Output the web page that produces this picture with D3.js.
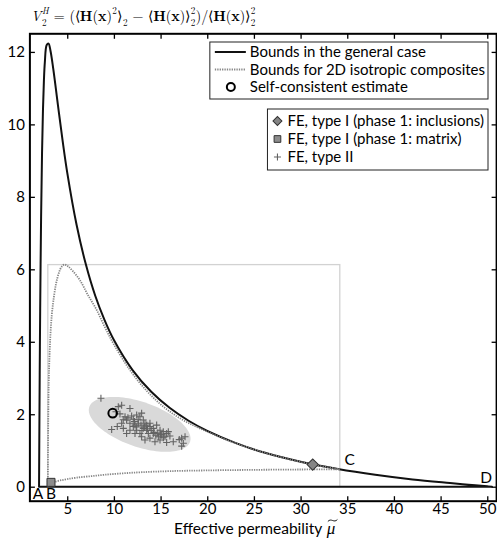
<!DOCTYPE html>
<html>
<head>
<meta charset="utf-8">
<script src="https://cdn.jsdelivr.net/npm/d3@7"></script>
<style>
  body { margin: 0; background: #fff; }
  svg { display: block; }
  text { white-space: pre; }
</style>
</head>
<body>
<div id="chart"></div>
<script>
// bound in the general case (effective permeability, V2^H)
var boundMu = [1.98, 2.0, 2.05, 2.1, 2.2, 2.3, 2.4, 2.5, 2.6, 2.8, 3.0, 3.2, 3.5, 4, 4.5, 5, 6, 7, 8, 9, 10, 12, 14, 16, 18, 20, 23, 26, 30, 34, 38, 42, 46, 48, 50, 50.5];
var boundV = [0, 0.97, 3.1, 4.84, 7.45, 9.21, 10.4, 11.2, 11.71, 12.19, 12.23, 12.04, 11.54, 10.54, 9.56, 8.67, 7.23, 6.13, 5.27, 4.6, 4.05, 3.22, 2.62, 2.17, 1.82, 1.54, 1.21, 0.95, 0.69, 0.49, 0.33, 0.2, 0.1, 0.053, 0.01, 0];

// bounds for 2D isotropic composites (upper branch B -> C, lower branch B -> C)
var isoUpMu = [2.92, 2.94, 2.97, 3.02, 3.1, 3.2, 3.35, 3.55, 3.8, 4.1, 4.4, 4.7, 5.1, 5.6, 6.36, 7.2, 8.15, 9.0, 9.93, 11.72, 13.5, 15.3, 17.2, 19.2, 22, 25, 28, 31, 34.2];
var isoUpV = [0, 1.0, 2.0, 2.9, 3.6, 4.2, 4.75, 5.2, 5.6, 5.9, 6.07, 6.13, 6.08, 5.95, 5.7, 5.3, 4.88, 4.42, 3.96, 3.22, 2.65, 2.21, 1.87, 1.61, 1.3, 1.03, 0.81, 0.63, 0.48];
var isoLoMu = [2.92, 3.0, 3.2, 3.6, 4.2, 5, 6, 7.5, 9, 11, 13, 16, 20, 25, 30, 34.2];
var isoLoV = [0, 0.05, 0.09, 0.13, 0.17, 0.21, 0.25, 0.29, 0.33, 0.37, 0.4, 0.43, 0.45, 0.465, 0.475, 0.48];

// box spanned by the 2D bounds
var boxMu = [2.92, 34.2];
var boxV = [0, 6.13];

// FE type II results
var feMu = [8.61, 10.47, 10.83, 10.22, 10.65, 11.72, 11.19, 11.36, 10.83, 12.08, 12.44, 12.79, 13.15, 12.61, 12.08, 11.72, 11.36, 9.76, 10.36, 11.01,
  13.51, 13.86, 14.22, 14.58, 14.94, 15.29, 15.65, 15.12, 14.76, 14.22, 13.33, 13.86, 14.4, 14.94, 15.65, 16.36, 15.47, 15.83, 17.26, 17.62,
  17.44, 17.26, 13.51, 13.15, 12.44, 12.79, 12.26, 12.97, 13.69, 11.72, 12.26, 13.33, 13.86, 12.97, 11.5, 12.2, 12.9, 13.6, 14.3, 15.0,
  11.9, 12.6, 13.3, 14.0, 14.7, 11.0, 12.4, 13.0, 14.5, 15.3, 16.0, 17.0];
var feV = [2.44, 2.21, 2.25, 2.07, 2.01, 2.16, 1.93, 1.84, 1.75, 1.86, 1.98, 1.93, 1.84, 1.75, 1.66, 1.56, 1.47, 1.58, 1.66, 1.61,
  1.7, 1.66, 1.61, 1.7, 1.56, 1.52, 1.47, 1.43, 1.38, 1.47, 1.29, 1.34, 1.24, 1.29, 1.22, 1.24, 1.38, 1.52, 1.34, 1.38,
  1.2, 1.12, 1.56, 1.61, 1.56, 1.47, 1.47, 1.38, 1.47, 1.75, 1.7, 1.75, 1.75, 2.03, 1.9, 1.8, 1.7, 1.6, 1.5, 1.45,
  1.95, 1.85, 1.65, 1.55, 1.48, 1.85, 1.65, 1.55, 1.42, 1.35, 1.4, 1.3];

// spread ellipse of FE type II: centre and two half-axes (data units)
var ellCenter = [12.76, 1.72];
var ellAxisA = [5.39, -0.484];
var ellAxisB = [0.79, 0.584];

// single points
var scPoint = [9.87, 2.03];      // self-consistent estimate
var fe1Incl = [31.3, 0.61];      // FE type I, phase 1 inclusions
var fe1Matrix = [3.26, 0.12];    // FE type I, phase 1 matrix

var muTicks = [5, 10, 15, 20, 25, 30, 35, 40, 45, 50];
var vTicks = [0, 2, 4, 6, 8, 10, 12];

var legend1 = ['Bounds in the general case', 'Bounds for 2D isotropic composites', 'Self-consistent estimate'];
var legend2 = ['FE, type I (phase 1: inclusions)', 'FE, type I (phase 1: matrix)', 'FE, type II'];

var width = 497,
  height = 539;
var sans = 'Lato, "Open Sans", sans-serif';
var serif = '"Latin Modern Roman", "Liberation Serif", serif';
var dotGrey = '#868686';

var svg = d3
  .select('#chart')
  .append('svg')
  .attr('width', width)
  .attr('height', height);

var x = d3.scaleLinear().domain([1, 51]).range([29.9, 496.6]);
var y = d3.scaleLinear().domain([-0.4, 12.5]).range([501.2, 33.8]);

// gray box of 2D bounds
svg
  .append('rect')
  .attr('x', x(boxMu[0]))
  .attr('y', y(boxV[1]))
  .attr('width', x(boxMu[1]) - x(boxMu[0]))
  .attr('height', y(boxV[0]) - y(boxV[1]))
  .attr('fill', 'none')
  .attr('stroke', '#d2d2d2')
  .attr('stroke-width', 1.3);

// ellipse
var ellPts = d3.range(0, 2 * Math.PI + 0.01, Math.PI / 60).map((t) => [
  ellCenter[0] + ellAxisA[0] * Math.cos(t) + ellAxisB[0] * Math.sin(t),
  ellCenter[1] + ellAxisA[1] * Math.cos(t) + ellAxisB[1] * Math.sin(t)
]);
svg
  .append('path')
  .attr('d', d3.line().x((d) => x(d[0])).y((d) => y(d[1]))(ellPts) + 'Z')
  .attr('fill', '#d9d9d9')
  .attr('stroke', 'none');

var line = d3
  .line()
  .x((d) => x(d[0]))
  .y((d) => y(d[1]))
  .curve(d3.curveCatmullRom.alpha(0.5));

// general bound (closed with the line V=0)
var boundPts = boundMu.map((m, i) => [m, boundV[i]]);
svg
  .append('path')
  .attr('d', line(boundPts) + 'Z')
  .attr('fill', 'none')
  .attr('stroke', '#111')
  .attr('stroke-width', 2)
  .attr('stroke-linejoin', 'round');

// 2D isotropic bounds
[
  isoUpMu.map((m, i) => [m, isoUpV[i]]),
  isoLoMu.map((m, i) => [m, isoLoV[i]])
].forEach((pts) => {
  svg
    .append('path')
    .attr('d', line(pts))
    .attr('fill', 'none')
    .attr('stroke', dotGrey)
    .attr('stroke-width', 1.8)
    .attr('stroke-dasharray', '1.3,1.1');
});

// FE type II crosses
var plus = 'M-3.5,0H3.5M0,-3.5V3.5';
svg
  .append('g')
  .selectAll('path')
  .data(feMu)
  .enter()
  .append('path')
  .attr('d', plus)
  .attr('transform', (d, i) => 'translate(' + x(d) + ',' + y(feV[i]) + ')')
  .attr('stroke', '#636363')
  .attr('stroke-width', 1.1)
  .attr('fill', 'none');

// self-consistent estimate
svg
  .append('circle')
  .attr('cx', x(scPoint[0]))
  .attr('cy', y(scPoint[1]))
  .attr('r', 4.3)
  .attr('fill', 'none')
  .attr('stroke', '#000')
  .attr('stroke-width', 2);

var square = d3.symbol().type(d3.symbolSquare).size(64);

svg
  .append('path')
  .attr('d', square())
  .attr('transform', 'translate(' + x(fe1Incl[0]) + ',' + y(fe1Incl[1]) + ') rotate(45)')
  .attr('fill', '#858585')
  .attr('stroke', '#333')
  .attr('stroke-width', 1);

svg
  .append('path')
  .attr('d', square())
  .attr('transform', 'translate(' + x(fe1Matrix[0]) + ',' + y(fe1Matrix[1]) + ')')
  .attr('fill', '#8c8c8c')
  .attr('stroke', '#333')
  .attr('stroke-width', 1);

// point labels A B C D
var pointLabels = [
  { t: 'A', x: x(1.98) - 1, y: y(-0.4) - 2 },
  { t: 'B', x: x(3.26), y: y(-0.4) - 2 },
  { t: 'C', x: x(34.2) + 10, y: y(0.48) - 4 },
  { t: 'D', x: x(50) - 1, y: y(0) - 4 }
];
svg
  .append('g')
  .selectAll('text')
  .data(pointLabels)
  .enter()
  .append('text')
  .attr('x', (d) => d.x)
  .attr('y', (d) => d.y)
  .attr('text-anchor', 'middle')
  .style('font-family', sans)
  .style('font-size', '15.5px')
  .text((d) => d.t);

// axes (ticks inside, on all sides)
function styleAxis(g) {
  g.select('.domain').remove();
  g.selectAll('.tick line').attr('stroke', '#000').attr('stroke-width', 1.3);
  g.selectAll('.tick text')
    .style('font-family', sans)
    .style('font-size', '15px')
    .attr('fill', '#000');
}
svg
  .append('g')
  .attr('transform', 'translate(0,' + y(-0.4) + ')')
  .call(d3.axisBottom(x).tickValues(muTicks).tickSize(-5).tickPadding(2.5))
  .call(styleAxis);
svg
  .append('g')
  .attr('transform', 'translate(0,' + y(12.5) + ')')
  .call(d3.axisTop(x).tickValues(muTicks).tickSize(-5).tickFormat(''))
  .call(styleAxis);
svg
  .append('g')
  .attr('transform', 'translate(' + x(1) + ',0)')
  .call(d3.axisLeft(y).tickValues(vTicks).tickSize(-5).tickPadding(5))
  .call(styleAxis);
svg
  .append('g')
  .attr('transform', 'translate(' + x(51) + ',0)')
  .call(d3.axisRight(y).tickValues(vTicks).tickSize(-5).tickFormat(''))
  .call(styleAxis);

svg
  .append('rect')
  .attr('x', x(1))
  .attr('y', y(12.5))
  .attr('width', x(51) - x(1))
  .attr('height', y(-0.4) - y(12.5))
  .attr('fill', 'none')
  .attr('stroke', '#000')
  .attr('stroke-width', 2);

// x label; the tilde over mu is a small wave path
var xlX = 174,
  xlY = 533.5;
var xl = svg
  .append('text')
  .attr('x', xlX)
  .attr('y', xlY)
  .style('font-family', sans)
  .style('font-size', '15.5px')
  .text('Effective permeability ');
var muX = xlX + xl.node().getComputedTextLength() + 1;
var mu = svg
  .append('text')
  .attr('x', muX)
  .attr('y', xlY)
  .style('font-family', serif)
  .style('font-style', 'italic')
  .style('font-size', '17px')
  .text('μ');
var muW = mu.node().getComputedTextLength();
var tx0 = muX + 1,
  tx1 = muX + muW + 2,
  tyT = xlY - 13;
svg
  .append('path')
  .attr('d', 'M' + tx0 + ',' + (tyT + 1) +
    'C' + (tx0 + (tx1 - tx0) * 0.35) + ',' + (tyT - 3) + ' ' +
    (tx0 + (tx1 - tx0) * 0.65) + ',' + (tyT + 3) + ' ' + tx1 + ',' + (tyT - 1))
  .attr('fill', 'none')
  .attr('stroke', '#000')
  .attr('stroke-width', 0.9);

// title: one text element, pieces placed as tspans
var titleParts = [
  { t: 'V', it: true },
  { sub: '2', sup: 'H', supIt: true },
  { t: ' = (⟨' },
  { t: 'H', bold: true }, { t: '(' }, { t: 'x', bold: true }, { t: ')' },
  { sup: '2' },
  { t: '⟩' },
  { sub: '2' },
  { t: ' − ⟨' },
  { t: 'H', bold: true }, { t: '(' }, { t: 'x', bold: true }, { t: ')' },
  { t: '⟩' },
  { sub: '2', sup: '2' },
  { t: ')/⟨' },
  { t: 'H', bold: true }, { t: '(' }, { t: 'x', bold: true }, { t: ')' },
  { t: '⟩' },
  { sub: '2', sup: '2' }
];
var tSize = 14;
var title = svg
  .append('text')
  .style('font-family', serif)
  .style('font-size', tSize + 'px');
var cx = 31,
  ty = 21;
titleParts.forEach((p) => {
  if (p.t !== undefined) {
    var el = title
      .append('tspan')
      .attr('x', cx)
      .attr('y', ty)
      .style('font-style', p.it ? 'italic' : 'normal')
      .style('font-weight', p.bold ? 'bold' : 'normal')
      .text(p.t);
    cx += el.node().getComputedTextLength();
  } else {
    var w = 0;
    if (p.sup) {
      var s = title
        .append('tspan')
        .attr('x', cx + 0.5)
        .attr('y', ty - 7.5)
        .style('font-size', tSize * 0.65 + 'px')
        .style('font-style', p.supIt ? 'italic' : 'normal')
        .text(p.sup);
      w = Math.max(w, s.node().getComputedTextLength());
    }
    if (p.sub) {
      var b = title
        .append('tspan')
        .attr('x', cx + 0.5)
        .attr('y', ty + 4.5)
        .style('font-size', tSize * 0.65 + 'px')
        .text(p.sub);
      w = Math.max(w, b.node().getComputedTextLength());
    }
    cx += w + 1;
  }
});

// legends
function measure(strs, size) {
  var tmp = svg.append('g').style('font-family', sans).style('font-size', size + 'px');
  var ws = strs.map((s) => tmp.append('text').text(s).node().getComputedTextLength());
  tmp.remove();
  return d3.max(ws);
}
var legSize = 15;
var legRight = 488;

var w1 = measure(legend1, legSize);
var t1x = legRight - 3 - w1;
var lg1 = svg.append('g');
lg1.append('rect')
  .attr('x', t1x - 40)
  .attr('y', 42)
  .attr('width', legRight - (t1x - 40))
  .attr('height', 57)
  .attr('fill', '#fff')
  .attr('stroke', '#222')
  .attr('stroke-width', 1);
var rows1 = [57, 74.5, 92];
lg1.append('line')
  .attr('x1', t1x - 35).attr('x2', t1x - 4)
  .attr('y1', rows1[0] - 5).attr('y2', rows1[0] - 5)
  .attr('stroke', '#111').attr('stroke-width', 2);
lg1.append('line')
  .attr('x1', t1x - 35).attr('x2', t1x - 4)
  .attr('y1', rows1[1] - 5).attr('y2', rows1[1] - 5)
  .attr('stroke', dotGrey).attr('stroke-width', 1.8).attr('stroke-dasharray', '1.3,1.1');
lg1.append('circle')
  .attr('cx', t1x - 19).attr('cy', rows1[2] - 5).attr('r', 4)
  .attr('fill', 'none').attr('stroke', '#000').attr('stroke-width', 2);
lg1.selectAll('text')
  .data(legend1)
  .enter()
  .append('text')
  .attr('x', t1x)
  .attr('y', (d, i) => rows1[i])
  .style('font-family', sans)
  .style('font-size', legSize + 'px')
  .text((d) => d);

var w2 = measure(legend2, legSize);
var t2x = legRight - 4 - w2;
var lg2 = svg.append('g');
lg2.append('rect')
  .attr('x', t2x - 20)
  .attr('y', 109)
  .attr('width', legRight - (t2x - 20))
  .attr('height', 61)
  .attr('fill', '#fff')
  .attr('stroke', '#222')
  .attr('stroke-width', 1);
var rows2 = [126, 144, 162];
lg2.append('path')
  .attr('d', d3.symbol().type(d3.symbolSquare).size(40)())
  .attr('transform', 'translate(' + (t2x - 10) + ',' + (rows2[0] - 5) + ') rotate(45)')
  .attr('fill', '#858585').attr('stroke', '#333');
lg2.append('path')
  .attr('d', d3.symbol().type(d3.symbolSquare).size(45)())
  .attr('transform', 'translate(' + (t2x - 10) + ',' + (rows2[1] - 5) + ')')
  .attr('fill', '#8c8c8c').attr('stroke', '#333');
lg2.append('path')
  .attr('d', plus)
  .attr('transform', 'translate(' + (t2x - 10) + ',' + (rows2[2] - 5) + ')')
  .attr('stroke', '#636363').attr('stroke-width', 1.1);
lg2.selectAll('text')
  .data(legend2)
  .enter()
  .append('text')
  .attr('x', t2x)
  .attr('y', (d, i) => rows2[i])
  .style('font-family', sans)
  .style('font-size', legSize + 'px')
  .text((d) => d);
</script>
</body>
</html>
